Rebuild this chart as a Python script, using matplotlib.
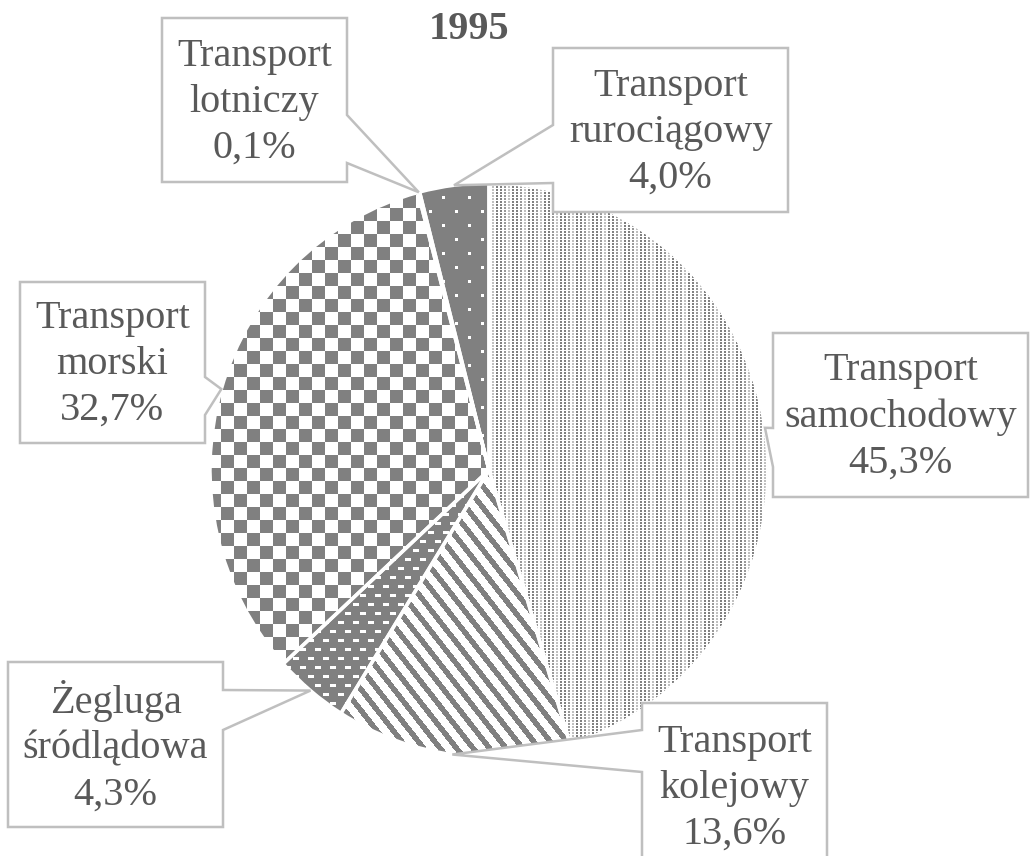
import numpy as np
import matplotlib.pyplot as plt
from matplotlib.patches import Polygon

# data (udział w przewozach ładunków, 1995)
labels = ['Transport\nsamochodowy', 'Transport\nkolejowy', 'Żegluga\nśródlądowa',
          'Transport\nmorski', 'Transport\nlotniczy', 'Transport\nrurociągowy']
shares = [45.3, 13.6, 4.3, 32.7, 0.1, 4.0]
title = '1995'

W, H = 1030, 856
cx, cy, rx, ry = 489, 470, 279, 287   # pie centre / radii in pixels

# callout boxes: (x0, y0, x1, y1), side of pointer, pointer base (y1, y2)
callouts = [
    ((773, 333, 1028, 497), 'left', (428, 467)),
    ((642, 703, 827, 880), 'left', (730, 772)),
    ((8, 662, 223, 827), 'right', (690, 730)),
    ((20, 282, 205, 443), 'right', (377, 415)),
    ((162, 18, 347, 182), 'right', (115, 163)),
    ((553, 48, 788, 212), 'left', (125, 183)),
]
patterns = ['fine', 'stripes', 'dashes', 'checker', 'solid', 'dots']

GRAY = 0.5
TXT = '#595959'
BORDER = '#bfbfbf'
FONT = 'Liberation Serif'


def make_pattern(kind, xx, yy):
    img = np.ones(xx.shape)
    if kind == 'fine':
        dark = (xx % 4 < 2) & (yy % 3 < 2)
        band = (xx // 4) % 4
        img[dark] = 0.5
        img[dark & (band == 3)] = 0.75
        img[dark & (band == 2)] = 0.6
    elif kind == 'stripes':
        s = 0.788 * xx - 0.616 * yy
        img[(s % 13.0) < 5.5] = GRAY
    elif kind == 'dashes':
        img[:] = GRAY
        off = ((yy // 9) % 2) * 7
        img[(yy % 9 < 3) & (((xx + off) % 15) < 6)] = 1.0
    elif kind == 'checker':
        img[((xx // 13 + yy // 13) % 2) == 0] = GRAY
    elif kind == 'solid':
        img[:] = GRAY
    elif kind == 'dots':
        img[:] = GRAY
        white = (((yy // 14) + (xx // 13)) % 2 == 0) & (yy % 14 < 3) & (xx % 13 < 3)
        img[white] = 1.0
    return img


fig = plt.figure(figsize=(W / 100, H / 100), dpi=100)

# pie axes sized to the pie's bounding box (slightly elliptical like the source)
axp = fig.add_axes([(cx - rx) / W, (H - cy - ry) / H, 2 * rx / W, 2 * ry / H])
wedges, _ = axp.pie(shares, startangle=90, counterclock=False, radius=1,
                    wedgeprops=dict(facecolor='none', edgecolor='white', linewidth=2.5))
axp.set_aspect('auto')

xs = np.arange(cx - rx, cx + rx)
ys = np.arange(cy - ry, cy + ry)
xx, yy = np.meshgrid(xs, ys)
for w, kind in zip(wedges, patterns):
    w.set_zorder(3)
    img = make_pattern(kind, xx, yy)
    im = axp.imshow(img, cmap='gray', vmin=0, vmax=1, extent=(-1, 1, -1, 1),
                    origin='upper', aspect='auto', interpolation='nearest', zorder=1)
    im.set_clip_path(w)
axp.set_xlim(-1, 1)
axp.set_ylim(-1, 1)
axp.axis('off')

# overlay in pixel coordinates for callouts
ax = fig.add_axes([0, 0, 1, 1])
ax.set_xlim(0, W)
ax.set_ylim(H, 0)
ax.axis('off')
ax.patch.set_visible(False)

total = sum(shares)
start = 0.0
for lab, val, (box, side, base) in zip(labels, shares, callouts):
    mid = np.deg2rad((start + val / 2) / total * 360)
    start += val
    tip = (cx + rx * np.sin(mid), cy - ry * np.cos(mid))
    x0, y0, x1, y1 = box
    pts = [(x0, y0), (x1, y0)]
    if side == 'right':
        pts += [(x1, base[0]), tip, (x1, base[1])]
    pts += [(x1, y1), (x0, y1)]
    if side == 'left':
        pts += [(x0, base[1]), tip, (x0, base[0])]
    ax.add_patch(Polygon(pts, closed=True, facecolor='white', edgecolor=BORDER,
                         linewidth=1.8, joinstyle='miter', zorder=2))
    pct = f'{val:.1f}%'.replace('.', ',')
    ax.text((x0 + x1) / 2, (y0 + min(y1, 870)) / 2 + 2, f'{lab}\n{pct}', ha='center',
            va='center', multialignment='center', fontsize=29, family=FONT,
            color=TXT, linespacing=1.32, zorder=3)

ax.text(469, 29, title, ha='center', va='center', fontsize=29, fontweight='bold',
        family=FONT, color=TXT)

fig.savefig('out.png', dpi=100)
